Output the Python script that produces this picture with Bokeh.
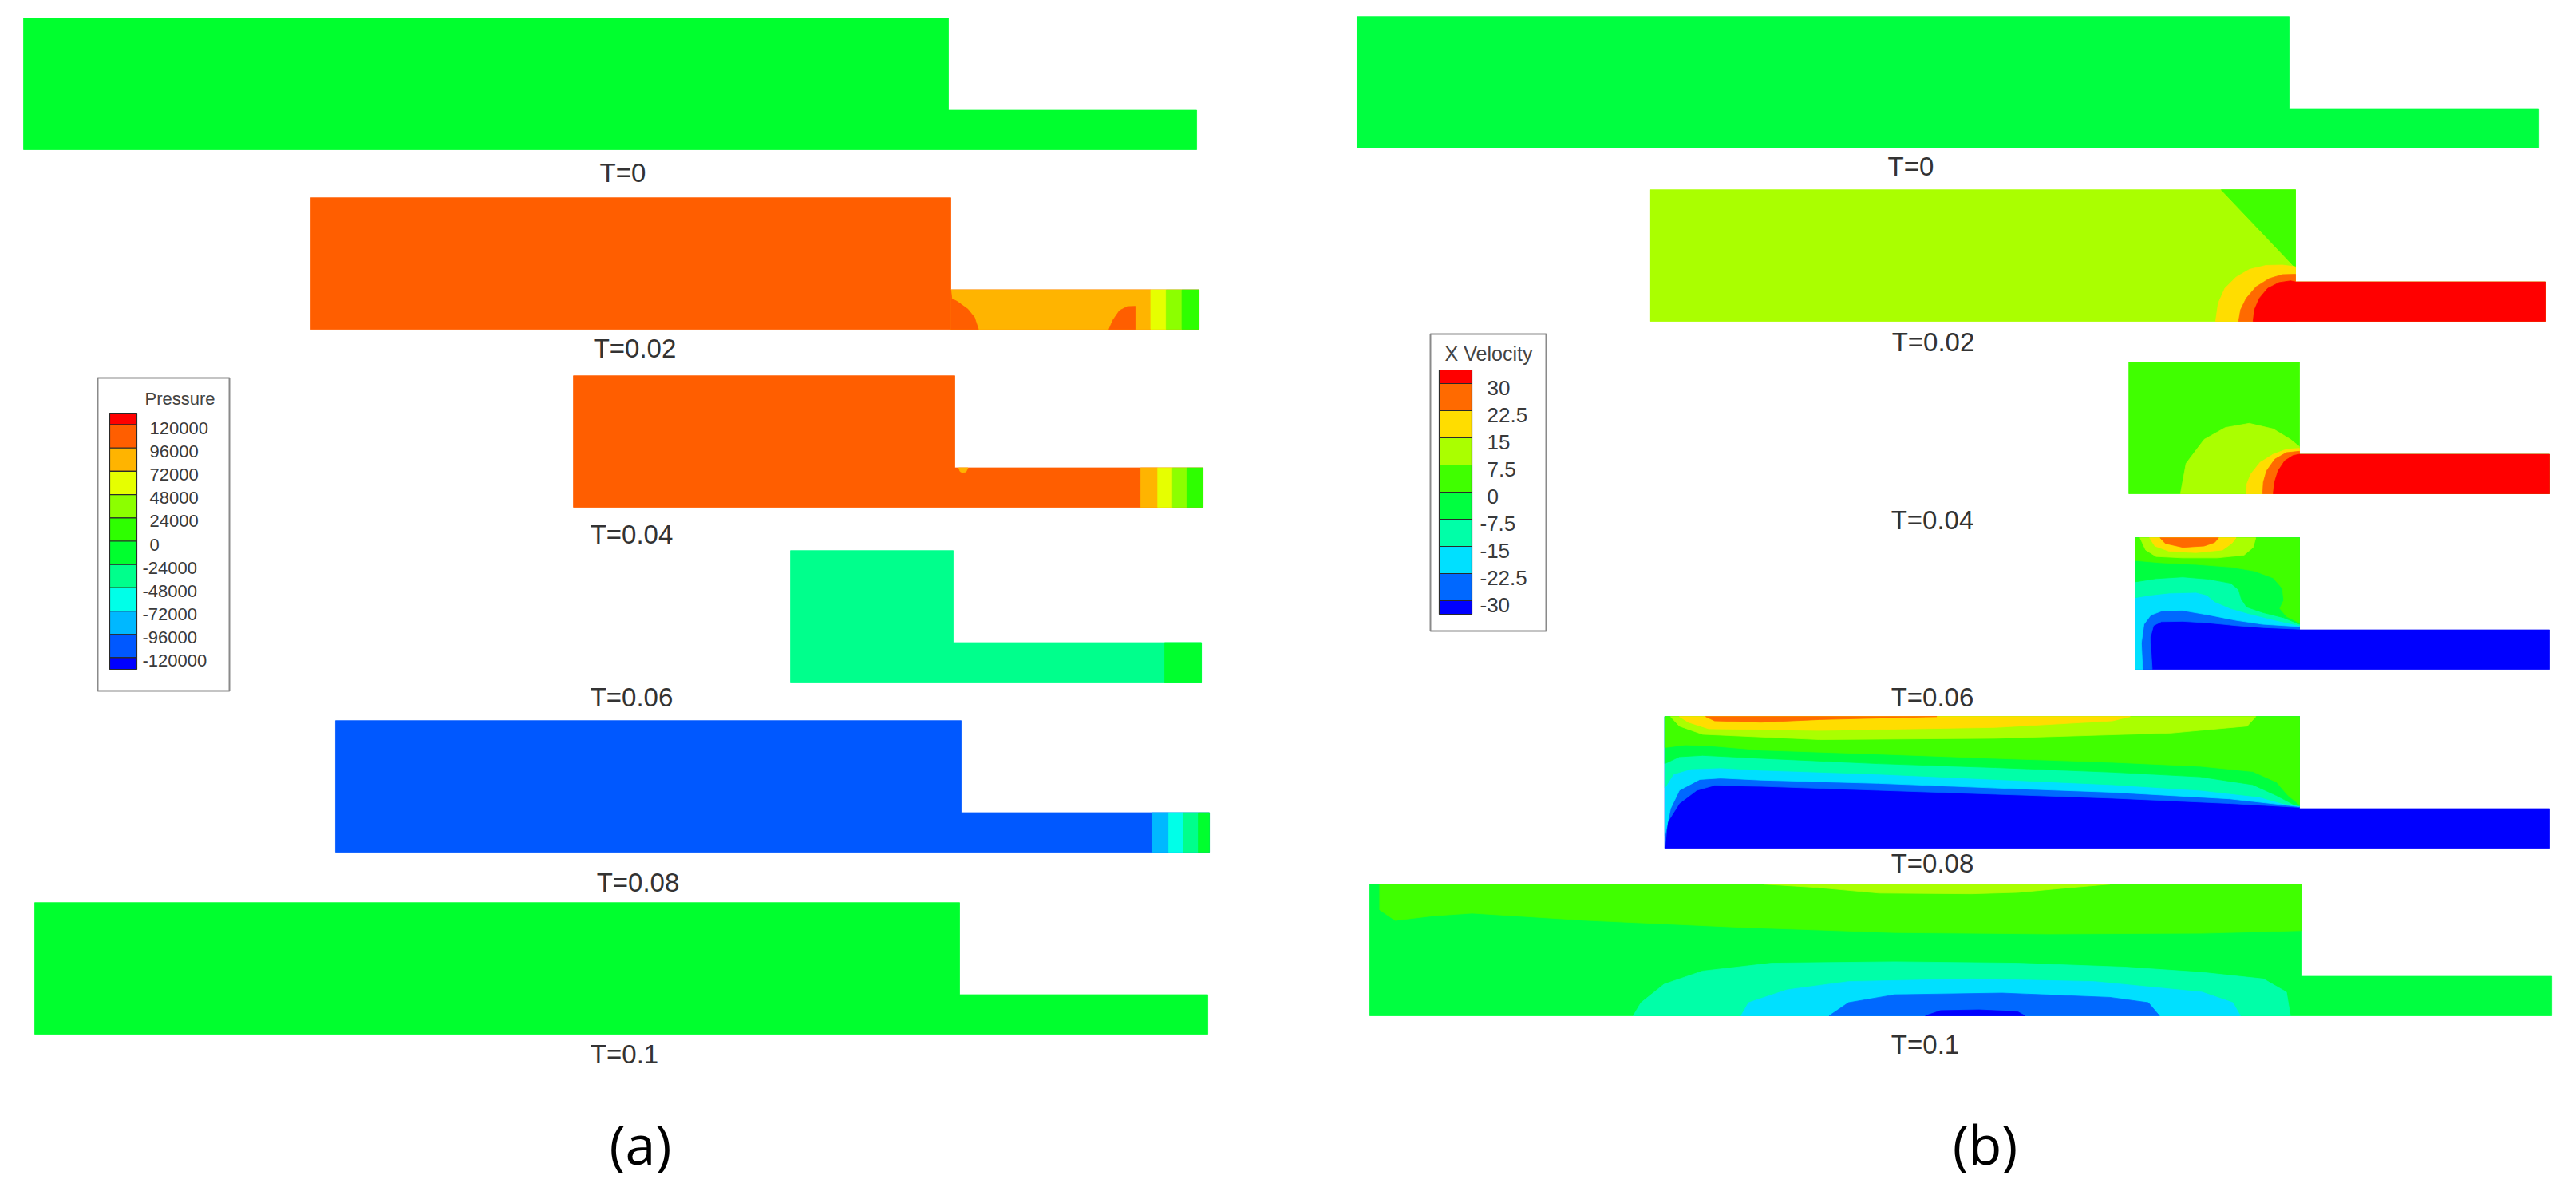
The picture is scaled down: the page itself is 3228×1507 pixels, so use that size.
from bokeh.plotting import figure
from bokeh.models import Range1d, ColumnDataSource
from bokeh.core.properties import value
from bokeh.embed import file_html
from bokeh.resources import INLINE

# ------------------------------------------------------------------ data
times = ["T=0", "T=0.02", "T=0.04", "T=0.06", "T=0.08", "T=0.1"]

# geometry (mm): chamber + outlet channel, x measured from the step
chamber_height = 40.0
channel_height = 12.0
channel_length_a = 75.5
channel_length_b = 76.0
chamber_length_a = [281.3, 194.7, 116.0, 49.5, 190.3, 281.3]
chamber_length_b = [283.5, 196.4, 51.9, 50.0, 193.0, 283.5]

# legends
pressure_title = "Pressure"
pressure_ticks = ["120000", "96000", "72000", "48000", "24000", "0",
                  "-24000", "-48000", "-72000", "-96000", "-120000"]
pressure_colors = ["#ff0000", "#ff5e00", "#ffb400", "#e6ff00", "#8cff00", "#2eff00",
                   "#00ff2e", "#00ff8c", "#00ffe8", "#00b8ff", "#0058ff", "#0000ff"]
velocity_title = "X Velocity"
velocity_ticks = ["30", "22.5", "15", "7.5", "0", "-7.5", "-15", "-22.5", "-30"]
velocity_colors = ["#ff0000", "#ff6a00", "#ffdd00", "#aaff00", "#40ff00",
                   "#00ff40", "#00ffa8", "#00e0ff", "#0068ff", "#0000ff"]

# pressure field (panel a): base band per snapshot + contour regions (band, xs, ys)
pressure_base = [6, 1, 1, 7, 10, 6]
pressure_t0 = []
pressure_t002 = [
    (2, [0, 60.8, 60.8, 0], [0, 0, 12, 12]),
    (1, [0, 0.3, 1.9, 5.2, 7.2, 8.4, 0], [12, 9.3, 8.5, 6.1, 3.6, 0, 0]),
    (1, [48.1, 49.3, 51.3, 53.7, 56.1, 56.1], [0, 2.8, 5.7, 6.9, 7.0, 0]),
    (3, [60.8, 65.5, 65.5, 60.8], [0, 0, 12, 12]),
    (4, [65.5, 70.3, 70.3, 65.5], [0, 0, 12, 12]),
    (5, [70.3, 75.5, 75.5, 70.3], [0, 0, 12, 12]),
]
pressure_t004 = [
    (2, [56.5, 61.7, 61.7, 56.5], [0, 0, 12, 12]),
    (3, [61.7, 66.2, 66.2, 61.7], [0, 0, 12, 12]),
    (4, [66.2, 70.6, 70.6, 66.2], [0, 0, 12, 12]),
    (5, [70.6, 75.5, 75.5, 70.6], [0, 0, 12, 12]),
    (2, [1.2, 4.0, 3.4, 2.4, 1.6], [12, 12, 10.8, 10.5, 10.9]),
]
pressure_t006 = [
    (6, [64.3, 75.5, 75.5, 64.3], [0, 0, 12, 12]),
]
pressure_t008 = [
    (9, [58.0, 63.1, 63.1, 58.0], [0, 0, 12, 12]),
    (8, [63.1, 67.5, 67.5, 63.1], [0, 0, 12, 12]),
    (7, [67.5, 72.1, 72.1, 67.5], [0, 0, 12, 12]),
    (6, [72.1, 75.5, 75.5, 72.1], [0, 0, 12, 12]),
]
pressure_t01 = []
pressure_regions = [pressure_t0, pressure_t002, pressure_t004,
                    pressure_t006, pressure_t008, pressure_t01]

# x-velocity field (panel b)
velocity_base = [5, 3, 4, 9, 9, 5]
velocity_t0 = []
velocity_t002 = [
    (4, [-22.6, 0, 0], [40, 40, 16.2]),
    (2, [0, -4, -9, -14, -18, -21.5, -23.5, -24.3, 0],
        [16.6, 17.1, 17.0, 15.8, 13.5, 10, 5.5, 0, 0]),
    (1, [0, -4, -8, -12, -15, -16.7, -17.3, 0],
        [14.3, 14.2, 13.0, 10.5, 7.0, 3.5, 0, 0]),
    (0, [0, 76, 76, -12.9, -12.5, -11, -8.5, -5, -1.5],
        [12, 12, 0, 0, 3.5, 7, 10, 11.8, 12.3]),
]
velocity_t004 = [
    (3, [-36.2, -34.5, -29, -22.6, -15.3, -8, -2.7, 0, 0],
        [0, 9.2, 16.5, 20.1, 21.4, 19.7, 16.5, 14.3, 0]),
    (2, [0, -4, -8, -12, -14.8, -16, -16.3, 0],
        [13.8, 13.5, 12, 9.5, 6, 3, 0, 0]),
    (1, [0, -4, -7.5, -10, -11, -11.2, 0],
        [12.9, 12.5, 10.5, 7, 3.5, 0, 0]),
    (0, [0, 76, 76, -8, -7.6, -6.5, -4.5, -2],
        [12, 12, 0, 0, 3.5, 7, 10, 11.6]),
]
velocity_t006 = [
    (8, [-50, -50, -44.8, -45.4, -44.4, -42.0, -35.5, -27.4, -19.3, -11.2, 0, 0],
        [40, 0, 0, 9.6, 13.3, 14.5, 14.6, 14.1, 13.3, 12.7, 12.2, 40]),
    (7, [-50, -50, -47.7, -48.1, -47.3, -45.2, -42.0, -35.5, -27.4, -19.3, -11.2, 0, 0],
        [40, 0, 0, 8.0, 13.7, 16.5, 17.7, 17.9, 16.5, 14.9, 13.7, 13.0, 40]),
    (6, [-50, -50, -45.2, -39.6, -31.5, -28.2, -25.8, -20.9, -15.3, -7.2, 0, 0],
        [40, 21.8, 22.6, 23.2, 23.4, 22.6, 20.6, 18.5, 16.9, 14.9, 13.3, 40]),
    (5, [-50, -50, -43.6, -35.5, -27.4, -20.9, -18.5, -17.7, -16.1, -11.2, -4.8, 0, 0],
        [40, 26.6, 27.6, 28.1, 27.4, 26.2, 24.2, 21.4, 19.0, 17.3, 15.7, 13.7, 40]),
    (4, [-50, -50, -42.0, -31.5, -20.9, -13.7, -8.0, -5.2, -4.8, -6.0, -4.0, 0, 0],
        [40, 33.1, 32.4, 31.9, 31.1, 29.9, 27.8, 24.6, 21.0, 18.5, 16.1, 14.1, 40]),
    (3, [-48.5, -46.8, -43.6, -35.5, -25.0, -16.9, -14.1, -13.3],
        [40, 36.3, 34.3, 33.9, 33.9, 34.7, 37.1, 40]),
    (2, [-45.6, -44.0, -39.6, -31.5, -23.4, -20.6, -19.3],
        [40, 37.5, 35.9, 35.5, 36.3, 38.3, 40]),
    (1, [-42.4, -40.8, -35.5, -29.0, -25.8, -24.6],
        [40, 38.3, 37.1, 37.5, 38.6, 40]),
]
velocity_t008 = [
    (8, [-193, -192.2, -188.6, -183.3, -177.9, -163.7, -128.1, -92.5, -56.9, -21.3, 0, 0, -193],
        [0, 7.9, 13.6, 17.6, 19.1, 18.8, 17.6, 16.4, 15.2, 13.6, 12.4, 40, 40]),
    (7, [-193, -191.3, -188.6, -182.4, -176.1, -163.7, -128.1, -92.5, -56.9, -21.3, -5.2, 0, 0, -193],
        [3.9, 12.0, 17.6, 20.9, 21.3, 20.7, 19.7, 18.3, 17.0, 15.0, 13.2, 12.6, 40, 40]),
    (6, [-193, -190.4, -185.0, -176.1, -163.7, -128.1, -92.5, -56.9, -30.2, -12.4, -5.2, 0, 0, -193],
        [18.4, 22.5, 24.1, 24.4, 23.7, 22.5, 20.9, 19.3, 17.6, 15.6, 13.6, 12.8, 40, 40]),
    (5, [-193, -188.6, -181.5, -163.7, -128.1, -92.5, -56.9, -30.2, -14.2, -7.0, -1.7, 0, 0, -193],
        [25.7, 27.8, 28.2, 27.3, 25.7, 24.5, 23.1, 21.7, 19.3, 16.0, 13.2, 12.9, 40, 40]),
    (4, [-193, -186.8, -177.9, -163.7, -128.1, -92.5, -56.9, -30.2, -14.2, -7.0, -3.5, 0, 0, -193],
        [30.6, 31.4, 31.0, 29.8, 28.6, 27.3, 26.1, 24.9, 23.3, 20.1, 16.0, 13.2, 40, 40]),
    (3, [-191.3, -188.6, -181.5, -145.9, -92.5, -39.1, -15.9, -13.3],
        [40, 37.1, 34.6, 33.0, 33.4, 35.0, 37.1, 40]),
    (2, [-188.6, -185.9, -179.7, -145.9, -92.5, -56.9, -51.5],
        [40, 38.3, 36.3, 35.8, 36.7, 38.7, 40]),
    (1, [-180.6, -177.9, -163.7, -145.9, -113.8, -110.3],
        [40, 38.7, 38.3, 39.1, 39.9, 40]),
]
velocity_t01 = [
    (4, [-280.5, -280.5, -275.8, -264.1, -252.4, -217.4, -170.6, -123.9, -77.1, -30.4, 0, 0],
        [40, 32.2, 29.0, 30.4, 31.2, 29.0, 26.9, 25.3, 24.9, 25.1, 25.9, 40]),
    (3, [-163.6, -147.3, -128.6, -100.5, -86.5, -70.1, -58.4],
        [40, 39.0, 37.3, 37.1, 37.5, 39.0, 40]),
    (6, [-203.4, -201.0, -194.0, -182.3, -161.3, -123.9, -86.5, -53.8, -30.4, -11.7, -4.7, -3.5],
        [0, 4.0, 9.6, 13.6, 16.0, 16.4, 16.0, 14.8, 13.2, 11.2, 7.2, 0]),
    (7, [-170.6, -168.3, -156.6, -137.9, -100.5, -63.1, -30.4, -21.0, -18.7],
        [0, 4.0, 7.9, 10.4, 11.2, 10.4, 7.2, 4.0, 0]),
    (8, [-143.8, -137.9, -123.9, -91.2, -58.4, -46.7, -43.3],
        [0, 4.0, 6.4, 6.9, 5.6, 4.0, 0]),
    (9, [-114.5, -109.9, -98.2, -86.5, -84.2],
        [0, 1.6, 1.8, 1.3, 0]),
]
velocity_regions = [velocity_t0, velocity_t002, velocity_t004,
                    velocity_t006, velocity_t008, velocity_t01]

# ------------------------------------------------------------------ layout
S = 4.12                 # px per mm
W, H = 3212, 1491
def X(px): return px / S
def Y(py): return (H - py) / S

step_px_a = [1188, 1191, 1196, 1194, 1204, 1202]
bottom_px_a = [187, 412, 635, 854, 1067, 1295]
step_px_b = [2868, 2876, 2881, 2881, 2881, 2884]
bottom_px_b = [185, 402, 618, 838, 1062, 1272]
label_a = [(780, 216), (795, 436), (791, 669), (791, 873), (799, 1105), (782, 1320)]
label_b = [(2394, 208), (2422, 428), (2421, 651), (2421, 873), (2421, 1081), (2412, 1308)]

p = figure(width=W, height=H, x_range=Range1d(0, W / S), y_range=Range1d(0, H / S),
           x_axis_type=None, y_axis_type=None, toolbar_location=None,
           output_backend="svg", min_border=0, outline_line_color=None,
           background_fill_color="white", border_fill_color="white")

xs_all, ys_all, col_all = [], [], []

def add_panel(lengths, ch_len, base, regions, steps, bottoms, colors):
    for i in range(len(lengths)):
        x0, y0 = X(steps[i]), Y(bottoms[i])
        Lc = lengths[i]
        dx = [-Lc, ch_len, ch_len, 0, 0, -Lc]
        dy = [0, 0, channel_height, channel_height, chamber_height, chamber_height]
        xs_all.append([x0 + u for u in dx])
        ys_all.append([y0 + v for v in dy])
        col_all.append(colors[base[i]])
        for lev, rx, ry in regions[i]:
            xs_all.append([x0 + u for u in rx])
            ys_all.append([y0 + v for v in ry])
            col_all.append(colors[lev])

add_panel(chamber_length_a, channel_length_a, pressure_base, pressure_regions,
          step_px_a, bottom_px_a, pressure_colors)
add_panel(chamber_length_b, channel_length_b, velocity_base, velocity_regions,
          step_px_b, bottom_px_b, velocity_colors)

src = ColumnDataSource(dict(xs=xs_all, ys=ys_all, c=col_all))
p.patches("xs", "ys", source=src, fill_color="c", line_color="c", line_width=0.8)

# time labels
p.text(x=[X(a) for a, b in label_a] + [X(a) for a, b in label_b],
       y=[Y(b) for a, b in label_a] + [Y(b) for a, b in label_b],
       text=times + times, text_align="center", text_baseline="middle",
       text_font=value("Liberation Sans"), text_font_size="33px", text_color="#333333")

# panel labels
p.text(x=[X(802), X(2487)], y=[Y(1432), Y(1432)], text=["(a)", "(b)"],
       text_align="center", text_baseline="middle",
       text_font=value("Open Sans"), text_font_size="68px", text_color="#000000")

# ------------------------------------------------------------------ legends
def legend(box, title, title_xy, title_size, bar, ticks, colors, tick_x, tick_size, tick_dy):
    l, r, t, b = box
    p.quad(left=[X(l)], right=[X(r)], top=[Y(t)], bottom=[Y(b)],
           fill_color="white", line_color="#8a8a8a", line_width=2)
    p.text(x=[X(title_xy[0])], y=[Y(title_xy[1])], text=[title], text_align="center",
           text_baseline="middle", text_font=value("Liberation Sans"),
           text_font_size=title_size, text_color="#444444")
    bl, br, bt, bb = bar
    n = len(colors)
    h = (bb - bt) / (n - 1)
    edges = [bt] + [bt + h / 2 + k * h for k in range(n - 1)] + [bb]
    p.quad(left=[X(bl)] * n, right=[X(br)] * n,
           top=[Y(edges[k]) for k in range(n)], bottom=[Y(edges[k + 1]) for k in range(n)],
           fill_color=colors, line_color="#2a2a2a", line_width=1.2)
    tx = [X(tick_x - (9 if s.startswith("-") else 0)) for s in ticks]
    ty = [Y(edges[k + 1] + tick_dy) for k in range(len(ticks))]
    p.text(x=tx, y=ty, text=ticks, text_align="left", text_baseline="middle",
           text_font=value("Liberation Sans"), text_font_size=tick_size, text_color="#3a3a3a")

legend((122, 287, 473, 865), pressure_title, (225, 499), "22px",
       (137, 171, 517, 838), pressure_ticks, pressure_colors, 187, "22px", 4)
legend((1792, 1937, 418, 790), velocity_title, (1865, 442), "25px",
       (1803, 1844, 463, 769), velocity_ticks, velocity_colors, 1863, "26px", 5)

open("out.html", "w").write(file_html(p, INLINE))
